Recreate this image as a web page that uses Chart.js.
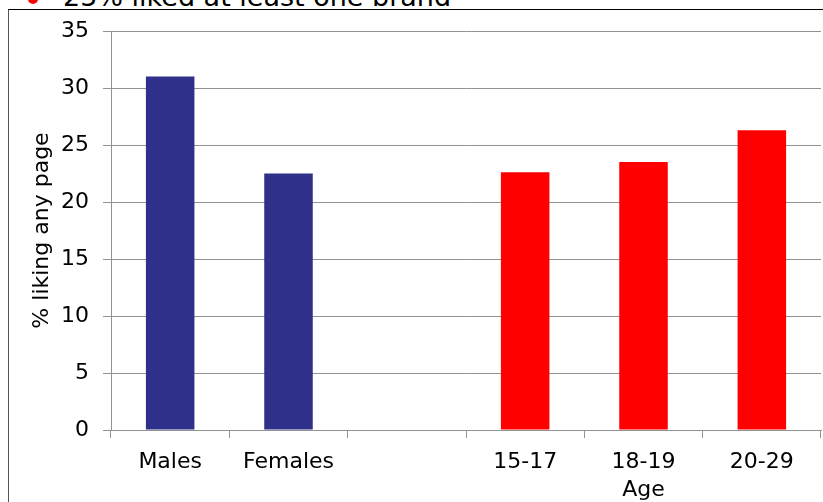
<!DOCTYPE html>
<html>
<head>
<meta charset="utf-8">
<script src="https://cdn.jsdelivr.net/npm/chart.js@4/dist/chart.umd.min.js"></script>
<style>
  html, body { margin: 0; padding: 0; background: #fff; overflow: hidden; }
  #wrap { position: relative; width: 823px; height: 502px; }
  #frame { position: absolute; left: 8px; top: 9px; right: -2px; bottom: -2px;
           border-left: 1px solid #555; border-top: 1px solid #000; }
  #headline { position: absolute; left: 63px; top: -17px; font-family: 'DejaVu Sans', sans-serif;
              font-size: 27px; line-height: 27px; color: #000; white-space: nowrap; }
  #dot { position: absolute; left: 28px; top: -6px; width: 10px; height: 10px;
         border-radius: 5px; background: #f00; }
  canvas { position: absolute; left: 0; top: 0; }
</style>
</head>
<body>
<div id="wrap">
  <div id="dot"></div>
  <div id="headline">25% liked at least one brand</div>
  <div id="frame"></div>
  <canvas id="chart" width="823" height="502"></canvas>
</div>
<script>
// chart values
const groups = ['Males', 'Females', '', '15-17', ['18-19', 'Age'], '20-29'];
const percentLiking = [31, 22.5, null, 22.6, 23.5, 26.3];
const barColors = ['#2E3089', '#2E3089', '#2E3089', '#FF0000', '#FF0000', '#FF0000'];
const yTicks = [0, 5, 10, 15, 20, 25, 30, 35];

const gridGrey = '#939393';
const font = { family: 'DejaVu Sans', size: 22 };

new Chart(document.getElementById('chart'), {
  type: 'bar',
  data: {
    labels: groups,
    datasets: [{
      data: percentLiking,
      backgroundColor: barColors,
      barPercentage: 0.41,
      categoryPercentage: 1
    }]
  },
  options: {
    responsive: false,
    animation: false,
    layout: { padding: { left: 0, top: 31, right: 2, bottom: 0 } },
    plugins: { legend: { display: false }, tooltip: { enabled: false } },
    scales: {
      x: {
        grid: { offset: true, drawOnChartArea: false, drawTicks: true, tickLength: 8, color: gridGrey },
        border: { color: gridGrey },
        ticks: { color: '#000', font: { family: 'DejaVu Sans', size: 22, lineHeight: 1.25 }, padding: 11, maxRotation: 0, autoSkip: false },
        afterFit: function (scale) { scale.height = 72; }
      },
      y: {
        min: 0,
        max: 35,
        afterBuildTicks: function (scale) { scale.ticks = yTicks.map(v => ({ value: v })); },
        grid: { color: gridGrey, tickLength: 8 },
        border: { color: gridGrey },
        ticks: { color: '#000', font: font, padding: 14 },
        title: { display: true, text: '% liking any page', color: '#000', font: font, padding: { top: 29, bottom: 0 } },
        afterFit: function (scale) { scale.width = 111; }
      }
    }
  }
});
</script>
</body>
</html>
